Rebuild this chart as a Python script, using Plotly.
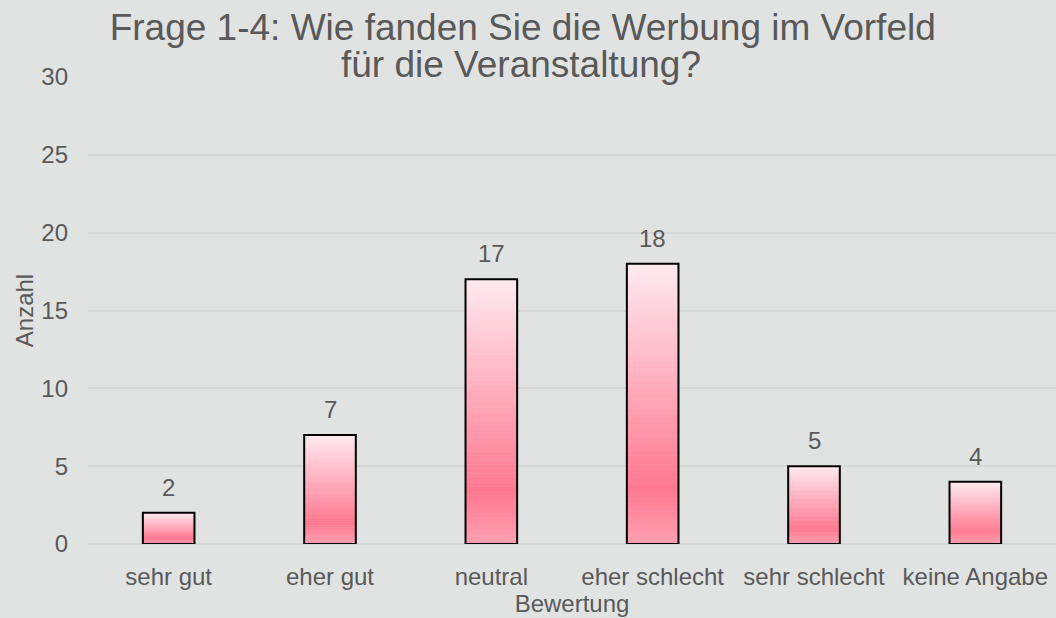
import plotly.graph_objects as go

categories = ["sehr gut", "eher gut", "neutral", "eher schlecht", "sehr schlecht", "keine Angabe"]
values = [2, 7, 17, 18, 5, 4]
y_ticks = [0, 5, 10, 15, 20, 25, 30]
title_lines = ["Frage 1-4: Wie fanden Sie die Werbung im Vorfeld", "für die Veranstaltung?"]

FONT = "Liberation Sans, Arial, sans-serif"
TXT = "#595959"
BG = "#E1E3E2"
GRID = "#D5D7D6"

# gradient stops (fraction from bottom -> rgb)
stops = [(0.0, (255, 160, 178)), (0.2, (255, 120, 144)), (1.0, (255, 234, 240))]


def grad(t):
    for (t0, c0), (t1, c1) in zip(stops[:-1], stops[1:]):
        if t0 <= t <= t1:
            f = (t - t0) / (t1 - t0)
            return "rgb(%d,%d,%d)" % tuple(round(a + (b - a) * f) for a, b in zip(c0, c1))
    return "rgb(%d,%d,%d)" % stops[-1][1]


N = 60
BW = 0.32
fig = go.Figure()
for k in range(N):
    t = (k + 0.5) / N
    col = grad(t)
    fig.add_trace(go.Bar(
        x=categories,
        y=[v / N for v in values],
        base=[v * k / N for v in values],
        width=BW,
        marker=dict(color=col, line=dict(width=0.6, color=col)),
        hoverinfo="skip",
        showlegend=False,
    ))

fig.add_trace(go.Bar(
    x=categories, y=values, width=BW,
    marker=dict(color="rgba(0,0,0,0)", line=dict(color="#000000", width=2)),
    showlegend=False,
))

for c, v in zip(categories, values):
    fig.add_annotation(x=c, y=v, text=str(v), showarrow=False, yanchor="bottom",
                       yshift=10, font=dict(family=FONT, size=24, color=TXT))

fig.add_annotation(text=title_lines[1], xref="paper", yref="paper", x=0.447, y=1.0257,
                   xanchor="center", yanchor="middle", showarrow=False,
                   font=dict(family=FONT, size=37, color=TXT))

fig.update_layout(
    width=1056, height=618,
    barmode="overlay",
    paper_bgcolor=BG, plot_bgcolor=BG,
    margin=dict(l=88, r=0, t=77, b=74),
    font=dict(family=FONT, size=24, color=TXT),
    title=dict(text=title_lines[0], x=0.495, xanchor="center", yref="container",
               y=1 - 27 / 618, yanchor="middle",
               font=dict(family=FONT, size=37, color=TXT)),
    xaxis=dict(title=dict(text="Bewertung", standoff=4, font=dict(size=24, color=TXT)),
               showgrid=False, showline=False, ticks="", ticklabelstandoff=16,
               tickfont=dict(size=24, color=TXT)),
    yaxis=dict(title=dict(text="Anzahl", standoff=0, font=dict(size=24, color=TXT)),
               range=[0, 30], tickvals=y_ticks, showgrid=True, gridcolor=GRID, gridwidth=2,
               zeroline=True, zerolinecolor=GRID, zerolinewidth=2, ticks="",
               ticklabelstandoff=19, tickfont=dict(size=24, color=TXT)),
)

fig.write_html("out.html", config={"displayModeBar": False},
               post_script="document.body.style.margin='0';")
